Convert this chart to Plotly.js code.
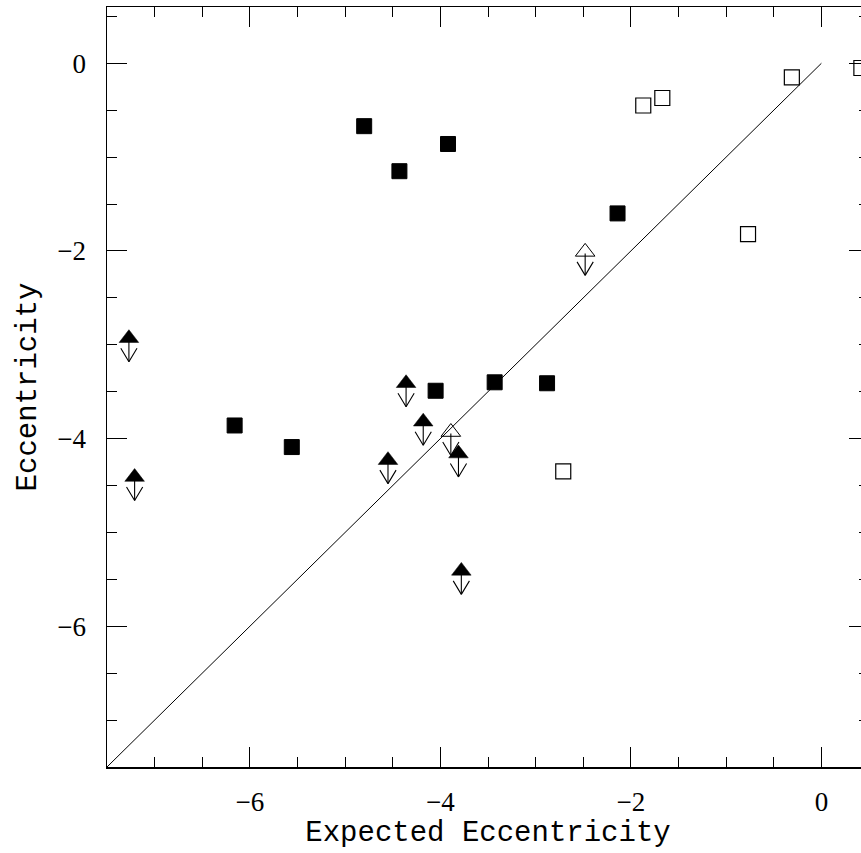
<!DOCTYPE html>
<html><head><meta charset="utf-8">
<script src="https://cdn.plot.ly/plotly-3.0.1.min.js"></script>
<style>html,body{margin:0;padding:0;overflow:hidden;background:#fff}</style>
</head><body><div id="chart"></div>
<script>
// Filled squares
const filledSqX = [-4.80, -4.43, -3.92, -2.14, -6.16, -5.56, -4.05, -3.43, -2.88];
const filledSqY = [-0.67, -1.15, -0.86, -1.60, -3.86, -4.09, -3.49, -3.40, -3.41];
// Open squares
const openSqX = [-1.87, -1.67, -0.31, 0.42, -0.77, -2.71];
const openSqY = [-0.45, -0.37, -0.15, -0.05, -1.82, -4.35];
// Filled triangles (upper limits)
const filledLimX = [-7.27, -7.21, -4.36, -4.18, -3.81, -4.55, -3.78];
const filledLimY = [-2.93, -4.41, -3.41, -3.82, -4.16, -4.23, -5.41];
// Open triangles (upper limits)
const openLimX = [-3.89, -2.48];
const openLimY = [-3.93, -2.01];
// One-to-one line
const oneToOneX = [-7.5, 0];
const oneToOneY = [-7.5, 0];

const ARROW_DROP = 0.25;   // length of the upper-limit arrow (data units)
const V_HALF = 9, V_H = 15; // arrow head arm offsets (px)

const traces = [
  {x: oneToOneX, y: oneToOneY, mode: 'lines', line: {color: '#000', width: 1}, hoverinfo: 'skip'},
  {x: filledSqX, y: filledSqY, mode: 'markers', marker: {symbol: 'square', size: 15, color: '#000', line: {color: '#000', width: 1}}},
  {x: openSqX, y: openSqY, mode: 'markers', marker: {symbol: 'square-open', size: 15, color: '#000', line: {color: '#000', width: 1.2}}, cliponaxis: false},
  {x: filledLimX, y: filledLimY, mode: 'markers', marker: {symbol: 'triangle-up', size: 17, color: '#000', line: {color: '#000', width: 0.5}}},
  {x: openLimX, y: openLimY, mode: 'markers', marker: {symbol: 'triangle-up-open', size: 17, color: '#000', line: {color: '#000', width: 1}}}
];

const annotations = [];
const seg = {text: '', showarrow: true, arrowhead: 0, arrowwidth: 1.1, arrowcolor: '#000', standoff: 0, startstandoff: 0, xref: 'x', yref: 'y'};
function addArrows(xs, ys) {
  xs.forEach((x, i) => {
    const tipY = ys[i] - ARROW_DROP;
    // shaft
    annotations.push(Object.assign({}, seg, {x: x, y: tipY, ax: x, ay: ys[i], axref: 'x', ayref: 'y'}));
    // head arms
    annotations.push(Object.assign({}, seg, {x: x, y: tipY, ax: -V_HALF, ay: -V_H}));
    annotations.push(Object.assign({}, seg, {x: x, y: tipY, ax: V_HALF, ay: -V_H}));
  });
}
addArrows(filledLimX, filledLimY);
addArrows(openLimX, openLimY);

const axisCommon = {
  showline: true, linecolor: '#000', linewidth: 1.5, mirror: 'ticks',
  ticks: 'inside', ticklen: 20, tickwidth: 1, tickcolor: '#000',
  dtick: 2, tick0: 0,
  minor: {dtick: 0.5, tick0: 0, ticks: 'inside', ticklen: 10, tickwidth: 1, tickcolor: '#000', showgrid: false},
  showgrid: false, zeroline: false,
  tickfont: {family: 'Liberation Serif', size: 27, color: '#000'}
};

const layout = {
  width: 880, height: 853,
  margin: {l: 107, r: 11, t: 7, b: 86},
  paper_bgcolor: '#fff', plot_bgcolor: '#fff',
  showlegend: false,
  xaxis: Object.assign({}, axisCommon, {
    range: [-7.5, 0.5], ticklabelstandoff: 10,
    title: {text: 'Expected Eccentricity', font: {family: 'Liberation Mono', size: 29, color: '#000'}, standoff: 4}
  }),
  yaxis: Object.assign({}, axisCommon, {
    range: [-7.5, 0.6], ticklabelstandoff: 14,
    title: {text: 'Eccentricity', font: {family: 'Liberation Mono', size: 29, color: '#000'}, standoff: 12}
  }),
  annotations: annotations
};

Plotly.newPlot('chart', traces, layout, {staticPlot: true, displayModeBar: false});
</script>
</body></html>
